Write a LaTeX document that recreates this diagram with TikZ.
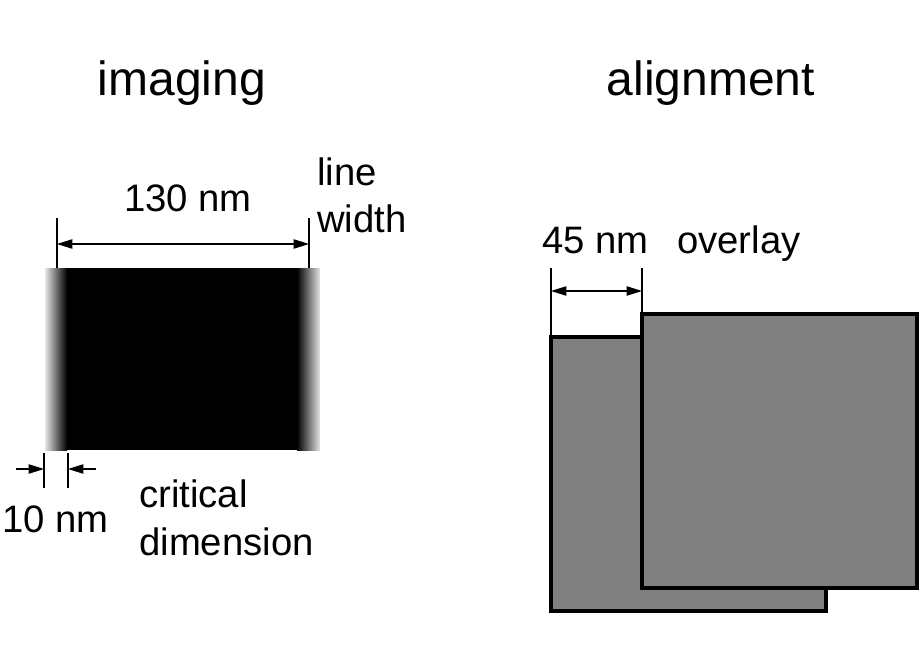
\documentclass[tikz,border=0pt]{standalone}
\usepackage{fontspec}
\setmainfont{Liberation Sans}
\usetikzlibrary{arrows.meta}
\begin{document}
\begin{tikzpicture}[x=0.75pt,y=-0.75pt,
  body/.style={font=\fontsize{28.7pt}{34pt}\selectfont, anchor=base west, inner sep=0pt},
  title/.style={font=\fontsize{36pt}{42pt}\selectfont, anchor=base, inner sep=0pt},
  ext/.style={line width=0.9pt},
  dim/.style={line width=0.9pt, -{Triangle[length=11.5pt,width=7pt]}},
  dimb/.style={line width=0.9pt, {Triangle[length=11.5pt,width=7pt]}-{Triangle[length=11.5pt,width=7pt]}},
  sq/.style={draw=black, fill=black!50, line width=2.3pt}]
\useasboundingbox (0,0) rectangle (920,660);
% titles
\node[title] (timg) at (182,95) {imaging};
\node[title] (talign) at (711,95) {alignment};
% imaging block
\shade[left color=black!10, right color=black] (45,268) rectangle (67,450);
\fill[black] (67,268) rectangle (297,450);
\shade[left color=black, right color=black!10] (297,268) rectangle (320,450);
% 130 nm dimension
\coordinate (e1a) at (57,218); \coordinate (e1b) at (57,268);
\coordinate (e2a) at (309,218); \coordinate (e2b) at (309,268);
\draw[ext] (e1a) -- (e1b);
\draw[ext] (e2a) -- (e2b);
\coordinate (d1) at (57,244); \coordinate (d2) at (309,244);
\draw[dimb] (d1) -- (d2);
\node[body] (t130) at (124,211) {130 nm};
\node[body] (tline) at (317,185) {line};
\node[body] (twidth) at (317,232) {width};
% 10 nm dimension
\coordinate (f1a) at (44,453); \coordinate (f1b) at (44,488);
\coordinate (f2a) at (68,453); \coordinate (f2b) at (68,488);
\draw[ext] (f1a) -- (f1b);
\draw[ext] (f2a) -- (f2b);
\coordinate (g1) at (16,469); \coordinate (g1e) at (44,469);
\coordinate (g2) at (96,469); \coordinate (g2e) at (68,469);
\draw[dim] (g1) -- (g1e);
\draw[dim] (g2) -- (g2e);
\node[body] (t10) at (2,532) {10 nm};
\node[body] (tcrit) at (139,507) {critical};
\node[body] (tdimn) at (139,555) {dimension};
% alignment squares
\draw[sq] (551,337) rectangle (826,611);
\draw[sq] (642,314) rectangle (917,588);
% 45 nm dimension
\coordinate (h1a) at (551,268); \coordinate (h1b) at (551,337);
\coordinate (h2a) at (642,268); \coordinate (h2b) at (642,314);
\draw[ext] (h1a) -- (h1b);
\draw[ext] (h2a) -- (h2b);
\coordinate (k1) at (551,291); \coordinate (k2) at (642,291);
\draw[dimb] (k1) -- (k2);
\node[body] (t45) at (542,253) {45 nm};
\node[body] (tover) at (677,253) {overlay};
\end{tikzpicture}
\end{document}
